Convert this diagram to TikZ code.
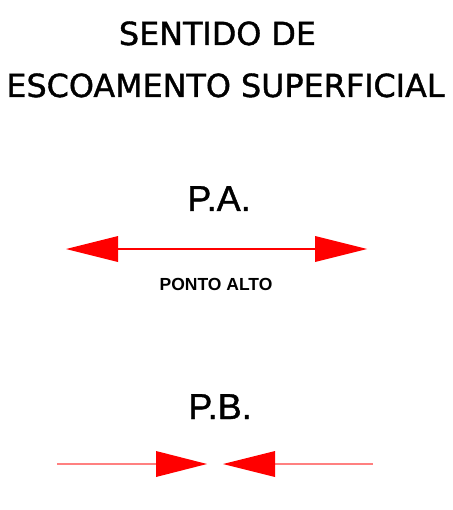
\documentclass[tikz,border=0pt]{standalone}
\usepackage{fontspec}
\setmainfont{Liberation Sans}
\newfontfamily\titlefont[FakeBold=1.2]{DejaVu Sans}
\newfontfamily\labfont[FakeBold=1.2]{Liberation Sans}
\begin{document}
\begin{tikzpicture}[x=1pt,y=-1pt,
  lbl/.style={anchor=base,inner sep=0pt,text=black},
  redline/.style={draw=red,line width=1.3pt},
  pinkline/.style={draw=red!50,line width=1.5pt},
  head/.style={fill=red,draw=none}]
\useasboundingbox[fill=white] (0,0) rectangle (452,510);
% titles
\node[lbl,font=\titlefont\fontsize{31.8}{31.8}\selectfont] (t1) at (217.5,45) {SENTIDO DE};
\node[lbl,font=\titlefont\fontsize{31.8}{31.8}\selectfont] (t2) at (225.5,97) {ESCOAMENTO SUPERFICIAL};
\node[lbl,font=\labfont\fontsize{36}{36}\selectfont] (pa) at (219,211) {P.A.};
\node[lbl,font=\bfseries\fontsize{17.5}{17.5}\selectfont] (ponto) at (216,290) {PONTO ALTO};
\node[lbl,font=\labfont\fontsize{36}{36}\selectfont] (pb) at (220,419) {P.B.};
% P.A. arrows
\coordinate (a1) at (66,249);
\coordinate (a2) at (118,249);
\coordinate (a3) at (315,249);
\coordinate (a4) at (367,249);
\draw[redline] (a2) -- (a3);
\fill[head] (a1) -- ([yshift=-13pt]a2) -- ([yshift=13pt]a2) -- cycle;
\fill[head] (a4) -- ([yshift=-13pt]a3) -- ([yshift=13pt]a3) -- cycle;
% P.B. arrows
\coordinate (b0) at (57,464);
\coordinate (b1) at (156,464);
\coordinate (b2) at (207,464);
\coordinate (b3) at (223,464);
\coordinate (b4) at (275,464);
\coordinate (b5) at (373,464);
\draw[pinkline] (b0) -- (b1);
\draw[pinkline] (b4) -- (b5);
\fill[head] (b2) -- ([yshift=-13pt]b1) -- ([yshift=13pt]b1) -- cycle;
\fill[head] (b3) -- ([yshift=-13pt]b4) -- ([yshift=13pt]b4) -- cycle;
\end{tikzpicture}
\end{document}
